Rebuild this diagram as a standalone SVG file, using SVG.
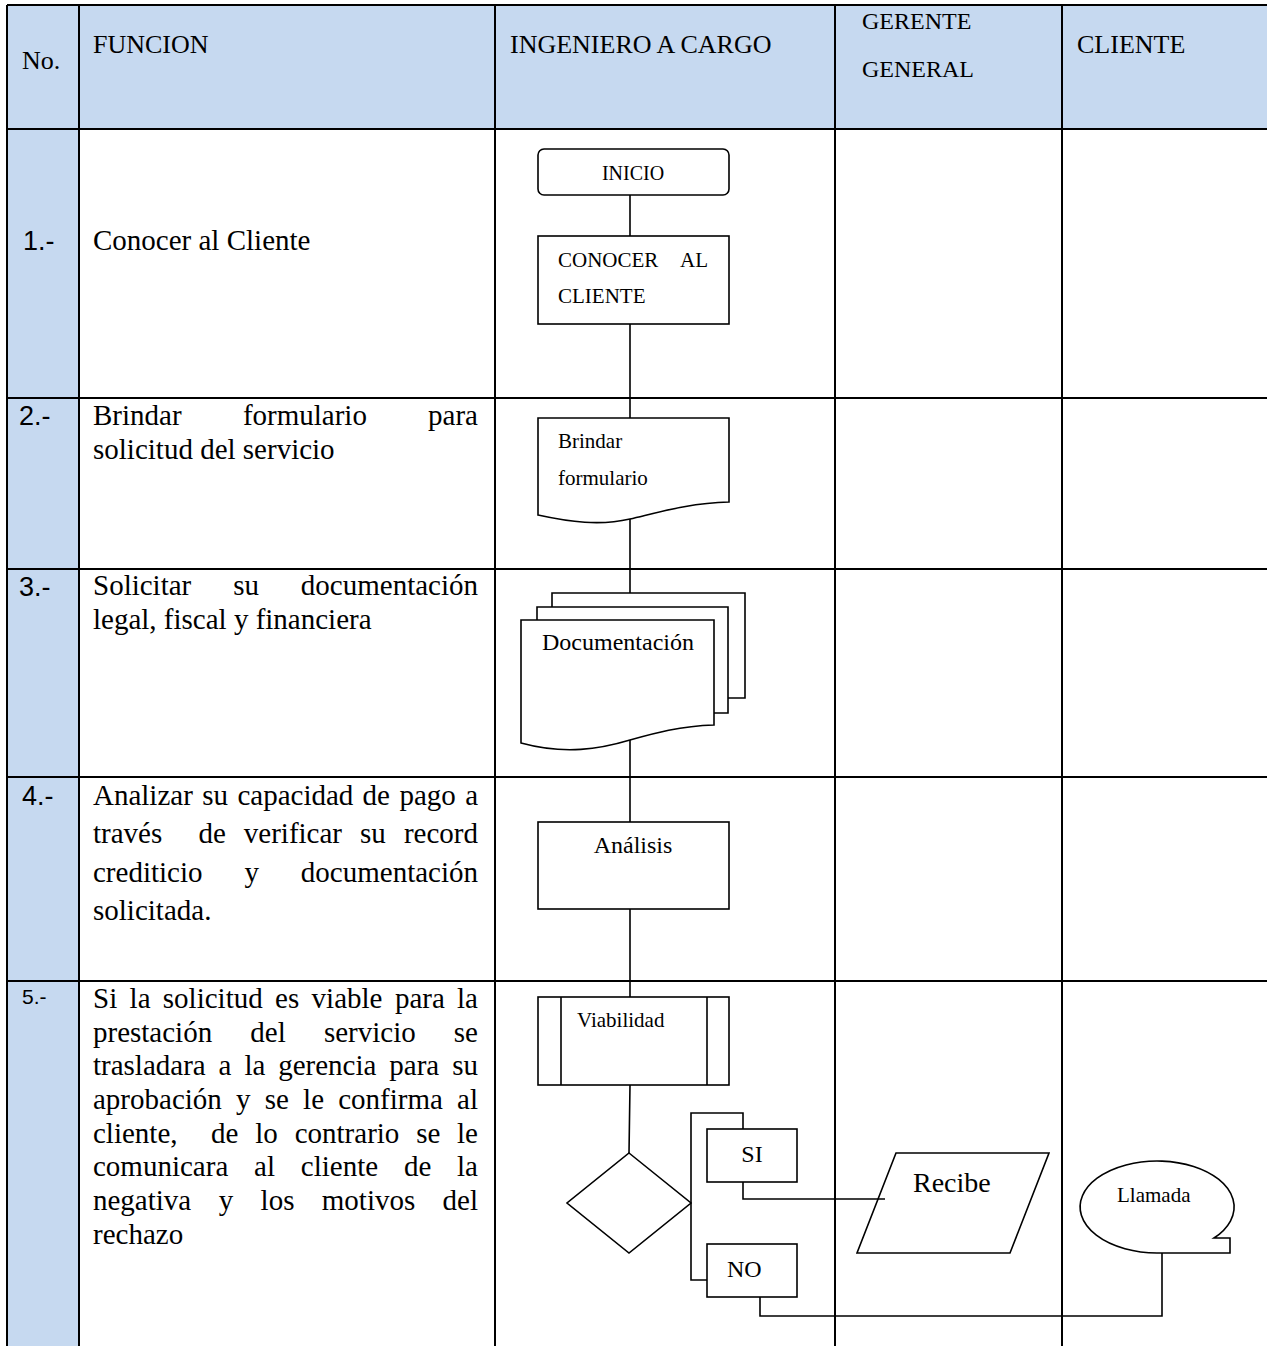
<svg xmlns="http://www.w3.org/2000/svg" width="1267" height="1346" viewBox="0 0 1267 1346">
<style>
.grid{stroke:#000;stroke-width:2;fill:none}
.hdr{fill:#C6D9F0}
.shape{fill:#fff;stroke:#000;stroke-width:1.6}
.conn{fill:none;stroke:#000;stroke-width:1.6}
.t{font-family:"Liberation Serif","Times New Roman",serif;fill:#000}
.h{font-size:26px}
.b{font-size:29px}
.n{font-family:"Liberation Sans",Arial,sans-serif;font-size:27px;fill:#000}
.s21{font-size:21px}
.s24{font-size:24px}
</style>
<rect width="1267" height="1346" fill="#fff"/>
<g id="table">
<rect class="hdr" x="7" y="5" width="1260" height="124"/>
<rect class="hdr" x="7" y="129" width="72" height="1217"/>
<path class="grid" d="M7,5 H1267 M7,129 H1267 M7,398 H1267 M7,569 H1267 M7,777 H1267 M7,981 H1267 M7,5 V1346 M79,5 V1346 M495,5 V1346 M835,5 V1346 M1062,5 V1346"/>
<text class="t h" x="22" y="69">No.</text>
<text class="t h" x="93" y="53">FUNCION</text>
<text class="t h" x="510" y="53">INGENIERO A CARGO</text>
<text class="t s24" x="862" y="29">GERENTE</text>
<text class="t s24" x="862" y="77">GENERAL</text>
<text class="t h" x="1077" y="53">CLIENTE</text>
</g>
<g id="row1">
<text class="n" x="23" y="250">1.-</text>
<text class="t b" x="93" y="250">Conocer al Cliente</text>
</g>
<g id="row2">
<text class="n" x="19" y="425">2.-</text>
<text class="t b" y="425"><tspan x="93">Brindar</tspan> <tspan x="242.9">formulario</tspan> <tspan x="478" text-anchor="end">para</tspan></text>
<text class="t b" x="93" y="459">solicitud del servicio</text>
</g>
<g id="row3">
<text class="n" x="19" y="596">3.-</text>
<text class="t b" y="595"><tspan x="93">Solicitar</tspan> <tspan x="233.2">su</tspan> <tspan x="478" text-anchor="end">documentación</tspan></text>
<text class="t b" x="93" y="629">legal, fiscal y financiera</text>
</g>
<g id="row4">
<text class="n" x="22" y="805">4.-</text>
<text class="t b" y="805"><tspan x="93">Analizar</tspan> <tspan x="202.2">su</tspan> <tspan x="237.4">capacidad</tspan> <tspan x="362.6">de</tspan> <tspan x="399.4">pago</tspan> <tspan x="478" text-anchor="end">a</tspan></text>
<text class="t b" y="843"><tspan x="93">través</tspan>  <tspan x="198.4">de</tspan> <tspan x="243.8">verificar</tspan> <tspan x="360">su</tspan> <tspan x="478" text-anchor="end">record</tspan></text>
<text class="t b" y="882"><tspan x="93">crediticio</tspan> <tspan x="244.4">y</tspan> <tspan x="478" text-anchor="end">documentación</tspan></text>
<text class="t b" x="93" y="920">solicitada.</text>
</g>
<g id="row5">
<text class="n" x="22" y="1004" style="font-size:21px">5.-</text>
<text class="t b" y="1008"><tspan x="93">Si</tspan> <tspan x="129.6">la</tspan> <tspan x="162.8">solicitud</tspan> <tspan x="275.1">es</tspan> <tspan x="311.6">viable</tspan> <tspan x="394.9">para</tspan> <tspan x="478" text-anchor="end">la</tspan></text>
<text class="t b" y="1042"><tspan x="93">prestación</tspan> <tspan x="250.3">del</tspan> <tspan x="323.9">servicio</tspan> <tspan x="478" text-anchor="end">se</tspan></text>
<text class="t b" y="1075"><tspan x="93">trasladara</tspan> <tspan x="218.6">a</tspan> <tspan x="244.4">la</tspan> <tspan x="278.2">gerencia</tspan> <tspan x="389.3">para</tspan> <tspan x="478" text-anchor="end">su</tspan></text>
<text class="t b" y="1109"><tspan x="93">aprobación</tspan> <tspan x="236">y</tspan> <tspan x="264.7">se</tspan> <tspan x="303.1">le</tspan> <tspan x="338.2">confirma</tspan> <tspan x="478" text-anchor="end">al</tspan></text>
<text class="t b" y="1143"><tspan x="93">cliente,</tspan>  <tspan x="211.1">de</tspan> <tspan x="255.3">lo</tspan> <tspan x="294.7">contrario</tspan> <tspan x="416.2">se</tspan> <tspan x="478" text-anchor="end">le</tspan></text>
<text class="t b" y="1176"><tspan x="93">comunicara</tspan> <tspan x="254.1">al</tspan> <tspan x="300.8">cliente</tspan> <tspan x="403.9">de</tspan> <tspan x="478" text-anchor="end">la</tspan></text>
<text class="t b" y="1210"><tspan x="93">negativa</tspan> <tspan x="218.7">y</tspan> <tspan x="260.6">los</tspan> <tspan x="321.8">motivos</tspan> <tspan x="478" text-anchor="end">del</tspan></text>
<text class="t b" x="93" y="1244">rechazo</text>
</g>
<g id="inicio">
<rect class="shape" x="538" y="149" width="191" height="46" rx="6"/>
<text class="t" x="633" y="180" text-anchor="middle" style="font-size:20px">INICIO</text>
</g>
<g id="conocer">
<rect class="shape" x="538" y="236" width="191" height="88"/>
<text class="t s21" y="267"><tspan x="558">CONOCER</tspan> <tspan x="708" text-anchor="end">AL</tspan></text>
<text class="t s21" x="558" y="303">CLIENTE</text>
</g>
<g id="brindar">
<path class="shape" d="M538,418 H729 V502 C690,503 660,512 630,519 C600,526 570,522 538,515 Z"/>
<text class="t s21" x="558" y="448">Brindar</text>
<text class="t s21" x="558" y="485">formulario</text>
</g>
<g id="documentacion">
<path class="shape" d="M552,607 V593 H745 V698 H728"/>
<path class="shape" d="M537,620 V607 H728 V713 H714"/>
<path class="shape" d="M521,620 H714 V725 C680,726 655,733 630,740 C600,749 565,755 521,743 Z"/>
<text class="t s24" x="542" y="650">Documentación</text>
</g>
<g id="analisis">
<rect class="shape" x="538" y="822" width="191" height="87"/>
<text class="t s24" x="633" y="853" text-anchor="middle">Análisis</text>
</g>
<g id="viabilidad">
<rect class="shape" x="538" y="997" width="191" height="88"/>
<path class="shape" d="M561,997 V1085 M707,997 V1085"/>
<text class="t s21" x="577" y="1027">Viabilidad</text>
</g>
<g id="decision">
<polygon class="shape" points="629,1153 691,1203 629,1253 567,1203"/>
</g>
<g id="si">
<rect class="shape" x="707" y="1129" width="90" height="53"/>
<text class="t s24" x="752" y="1162" text-anchor="middle">SI</text>
</g>
<g id="no">
<rect class="shape" x="707" y="1244" width="90" height="53"/>
<text class="t s24" x="727" y="1277">NO</text>
</g>
<g id="recibe">
<polygon class="shape" points="896,1153 1049,1153 1010,1253 857,1253"/>
<text class="t" x="913" y="1192" style="font-size:28px">Recibe</text>
</g>
<g id="llamada">
<path class="shape" d="M1230,1253 H1157 A77,46 0 1 1 1214,1238 H1230 Z"/>
<text class="t s21" x="1117" y="1202">Llamada</text>
</g>
<g id="connectors">
<path class="conn" d="M630,195 V236 M630,324 V418 M630,519 V593 M630,740 V822 M630,909 V997 M630,1085 L629,1153"/>
<path class="conn" d="M743,1129 V1113 H691 V1280 H707"/>
<path class="conn" d="M743,1182 V1199 H885"/>
<path class="conn" d="M760,1297 V1316 H1162 V1253"/>
</g>
</svg>
